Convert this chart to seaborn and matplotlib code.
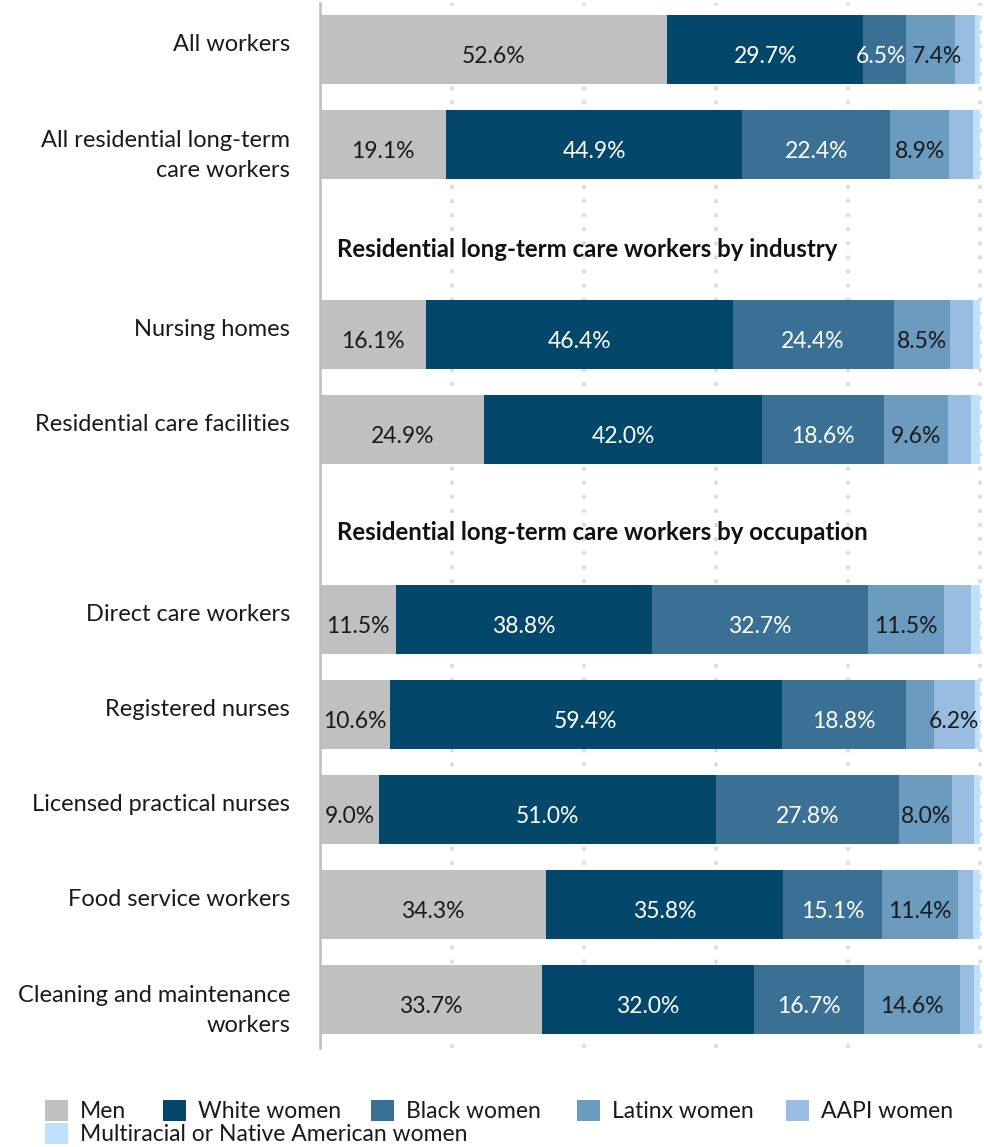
import numpy as np
import pandas as pd
import matplotlib
matplotlib.use("Agg")
import matplotlib.pyplot as plt
import matplotlib.transforms as mtransforms
from matplotlib.patches import Patch
import seaborn as sns

# ---- data -------------------------------------------------------------
categories = [
    "All workers",
    "All residential long-term\ncare workers",
    "Nursing homes",
    "Residential care facilities",
    "Direct care workers",
    "Registered nurses",
    "Licensed practical nurses",
    "Food service workers",
    "Cleaning and maintenance\nworkers",
]
row_pos = [0, 1, 3, 4, 6, 7, 8, 9, 10]

groups = ["Men", "White women", "Black women", "Latinx women", "AAPI women",
          "Multiracial or Native American women"]

men      = [52.6, 19.1, 16.1, 24.9, 11.5, 10.6,  9.0, 34.3, 33.7]
white    = [29.7, 44.9, 46.4, 42.0, 38.8, 59.4, 51.0, 35.8, 32.0]
black    = [ 6.5, 22.4, 24.4, 18.6, 32.7, 18.8, 27.8, 15.1, 16.7]
latinx   = [ 7.4,  8.9,  8.5,  9.6, 11.5,  4.2,  8.0, 11.4, 14.6]
aapi     = [ 3.0,  3.6,  3.6,  3.6,  4.2,  6.2,  3.3,  2.4,  2.1]
multi    = [ 0.8,  1.1,  1.0,  1.3,  1.3,  0.8,  0.9,  1.0,  0.9]

section_titles = ["Residential long-term care workers by industry",
                  "Residential long-term care workers by occupation"]
section_pos = [2.18, 5.16]

colors = ["#c0c0c0", "#03476a", "#3a7093", "#6b9cbf", "#98bde0", "#bfe0ff"]
label_colors = ["#1a1a1a", "white", "white", "#1a1a1a", "#1a1a1a", "#1a1a1a"]

FS = 17
VFS = 16.5
LINE_STEP = 31 / 95   # one text line, in row units

# ---- figure -----------------------------------------------------------
sns.set_theme(style="white")
plt.rcParams["font.family"] = ["Lato", "DejaVu Sans"]
plt.rcParams["text.color"] = "#1a1a1a"

fig = plt.figure(figsize=(9.84, 11.47), dpi=100)
ax_w = 662 / 984
ax = fig.add_axes([320 / 984, 1 - 1048 / 1147, ax_w, 1045 / 1147])

series = [men, white, black, latinx, aapi, multi]
df = pd.DataFrame({g: v for g, v in zip(groups, series)})
df["pos"] = row_pos
cum = df[groups].cumsum(axis=1)

# Dotted gridlines behind the bars
for gx in [20, 40, 60, 80, 100]:
    ax.axvline(gx, color="#dcdcdc", lw=2.6, ls=(0, (1.1, 2.8)), zorder=0)

# Stacked bars: draw cumulative totals from the outermost layer inward
for i in range(len(groups) - 1, -1, -1):
    plot_df = pd.DataFrame({"value": cum[groups[i]], "pos": df["pos"]})
    sns.barplot(data=plot_df, x="value", y="pos", orient="h", native_scale=True,
                color=colors[i], saturation=1, width=0.73, errorbar=None,
                linewidth=0, ax=ax, zorder=2)

# Value labels centred in each segment (small neighbouring segments are
# pushed apart slightly so their labels do not collide)
for i, g in enumerate(groups):
    for r, p in enumerate(row_pos):
        v = df[g].iloc[r]
        if v < 5:
            continue
        start = cum[g].iloc[r] - v
        cx = start + v / 2
        if r == 0 and g == "Black women":
            cx -= 0.6
        if r == 0 and g == "Latinx women":
            cx += 0.9
        ax.text(cx, p + 0.142, f"{v:.1f}%", ha="center",
                va="baseline", fontsize=VFS, color=label_colors[i], zorder=3)

# Category labels to the left of the axis (first line's baseline on the bar)
blend = mtransforms.blended_transform_factory(ax.transAxes, ax.transData)
for lab, p in zip(categories, row_pos):
    extra = lab.count("\n") * LINE_STEP
    ax.text(-30 / 662, p + 0.016 + extra, lab, transform=blend, ha="right",
            va="baseline", fontsize=FS, linespacing=1.56,
            multialignment="right", color="#1a1a1a")

# Section headings
for t, yp in zip(section_titles, section_pos):
    ax.text(2.6, yp, t, ha="left", va="baseline", fontsize=17.3,
            fontweight="bold", color="#111111")

ax.set_xlim(0, 100.3)
ax.set_ylim(10.51, -0.49)
ax.set_yticks([])
ax.set_xticks([])
ax.set_xlabel("")
ax.set_ylabel("")
for s in ["top", "right", "bottom"]:
    ax.spines[s].set_visible(False)
ax.spines["left"].set_color("#bdbdbd")
ax.spines["left"].set_linewidth(1.8)
ax.spines["left"].set_zorder(4)
if ax.get_legend():
    ax.get_legend().remove()

# Legend: five entries on the first row, the last one on a row below
LFS = 16.5
handles = [Patch(facecolor=c, edgecolor="none") for c in colors]
leg_kw = dict(loc="upper left", frameon=False, fontsize=LFS,
              handlelength=1.0, handleheight=1.0, handletextpad=0.52,
              borderpad=0, borderaxespad=0)
legend_x = [45, 163, 371, 577, 786, 45]
legend_y = [1100, 1100, 1100, 1100, 1100, 1123]
for h, g, lx, ly in zip(handles, groups, legend_x, legend_y):
    fig.legend([h], [g], bbox_to_anchor=(lx / 984, 1 - ly / 1147), **leg_kw)

fig.savefig("out.png", dpi=100)
